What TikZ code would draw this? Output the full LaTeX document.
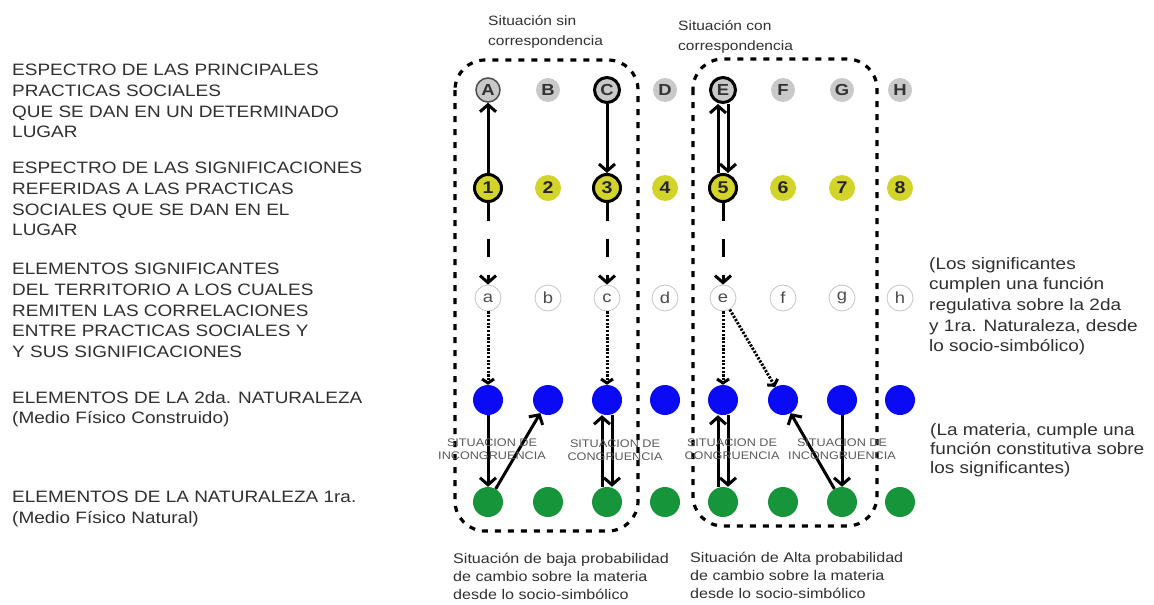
\documentclass[tikz,border=0pt]{standalone}
\usepackage{fontspec}
\setmainfont{Liberation Sans}[FakeStretch=1.15]
\usetikzlibrary{arrows.meta}
\definecolor{txt}{HTML}{303030}
\definecolor{lgray}{HTML}{C9C9C9}
\definecolor{yel}{HTML}{D2D42A}
\definecolor{bluec}{HTML}{0A0AF5}
\definecolor{greenc}{HTML}{16953A}
\definecolor{sitgray}{HTML}{5A5A5A}
\begin{document}
\begin{tikzpicture}[x=1pt,y=-1pt,
  lbl/.style={anchor=north west, inner sep=0pt, align=left, text=txt, font=\fontsize{16.5}{20.7}\selectfont},
  toplbl/.style={anchor=north west, inner sep=0pt, align=left, text=txt, font=\fontsize{13.5}{20}\selectfont},
  botlbl/.style={anchor=north west, inner sep=0pt, align=left, text=txt, font=\fontsize{14}{18}\selectfont},
  sitlbl/.style={inner sep=0pt, align=center, text=sitgray, font=\fontsize{11}{13}\selectfont},
  ltr/.style={circle, inner sep=0pt, minimum size=24pt, fill=lgray, text=black!80, font=\bfseries\fontsize{16}{16}\selectfont},
  ltrA/.style={ltr, draw=gray!60!black, line width=1.5pt},
  ltrK/.style={ltr, minimum size=25pt, draw=black, line width=3pt},
  num/.style={circle, inner sep=0pt, minimum size=26pt, fill=yel, text=black!85, font=\bfseries\fontsize{17}{17}\selectfont},
  numK/.style={num, minimum size=27pt, draw=black, line width=3pt},
  sml/.style={circle, inner sep=0pt, minimum size=26pt, fill=white, draw=gray!45, line width=0.8pt, text=black!70, font=\fontsize{16}{16}\selectfont},
  bl/.style={circle, inner sep=0pt, minimum size=30pt, fill=bluec},
  gr/.style={circle, inner sep=0pt, minimum size=30pt, fill=greenc},
  sarr/.style={line width=3pt, -{Straight Barb[length=7pt,width=16pt]}},
  darr/.style={sarr, dash pattern=on 18pt off 18pt},
  dotarr/.style={line width=3pt, dash pattern=on 2.2pt off 1.5pt, -{Straight Barb[length=4pt,width=12pt]}},
  boxd/.style={line width=3.2pt, dash pattern=on 6pt off 7pt, rounded corners=30pt}
]
\useasboundingbox[fill=white] (0,0) rectangle (1154,605);

% dashed boxes
\draw[boxd] (455,60) rectangle (638,531);
\draw[boxd] (693,59) rectangle (877,526);

% row 1: letters
\node[ltrA] (nA) at (488,90) {A};
\node[ltr]  (nB) at (548,90) {B};
\node[ltrK] (nC) at (607,90) {C};
\node[ltr]  (nD) at (665,90) {D};
\node[ltrK] (nE) at (723,90) {E};
\node[ltr]  (nF) at (783,90) {F};
\node[ltr]  (nG) at (842,90) {G};
\node[ltr]  (nH) at (900,90) {H};

% row 2: numbers
\node[numK] (n1) at (488,188) {1};
\node[num]  (n2) at (548,188) {2};
\node[numK] (n3) at (607,188) {3};
\node[num]  (n4) at (665,188) {4};
\node[numK] (n5) at (723,188) {5};
\node[num]  (n6) at (783,188) {6};
\node[num]  (n7) at (842,188) {7};
\node[num]  (n8) at (900,188) {8};

% row 3: significant elements
\node[sml] (sa) at (488,298) {a};
\node[sml] (sb) at (548,298) {b};
\node[sml] (sc) at (607,298) {c};
\node[sml] (sd) at (665,298) {d};
\node[sml] (se) at (723,298) {e};
\node[sml] (sf) at (783,298) {f};
\node[sml] (sg) at (842,298) {g};
\node[sml] (sh) at (900,298) {h};

% row 4: second nature
\node[bl] (ba) at (488,400) {};
\node[bl] (bb) at (548,400) {};
\node[bl] (bc) at (607,400) {};
\node[bl] (bd) at (665,400) {};
\node[bl] (be) at (723,400) {};
\node[bl] (bf) at (783,400) {};
\node[bl] (bg) at (842,400) {};
\node[bl] (bh) at (900,400) {};

% row 5: first nature
\node[gr] (ga) at (488,502) {};
\node[gr] (gb) at (548,502) {};
\node[gr] (gc) at (607,502) {};
\node[gr] (gd) at (665,502) {};
\node[gr] (ge) at (723,502) {};
\node[gr] (gf) at (783,502) {};
\node[gr] (gg) at (842,502) {};
\node[gr] (gh) at (900,502) {};

% connectors top
\draw[sarr] (n1) -- (nA);
\draw[sarr] (nC) -- (n3);
\draw[sarr] ([xshift=-5pt]n5.north) -- ([xshift=-5pt]nE.south);
\draw[sarr] ([xshift=5pt]nE.south) -- ([xshift=5pt]n5.north);

% dashed
\draw[darr] (n1) -- (sa);
\draw[darr] (n3) -- (sc);
\draw[darr] (n5) -- (se);

% dotted
\draw[dotarr] (sa) -- (ba);
\draw[dotarr] (sc) -- (bc);
\draw[dotarr] (se) -- (be);
\draw[dotarr] (se) -- (bf);

% bottom
\draw[sarr] (ba) -- (ga);
\draw[sarr] (ga) -- (bb);
\draw[sarr] ([xshift=-5pt]gc.north) -- ([xshift=-5pt]bc.south);
\draw[sarr] ([xshift=5pt]bc.south) -- ([xshift=5pt]gc.north);
\draw[sarr] ([xshift=-5pt]ge.north) -- ([xshift=-5pt]be.south);
\draw[sarr] ([xshift=5pt]be.south) -- ([xshift=5pt]ge.north);
\draw[sarr] (bg) -- (gg);
\draw[sarr] (gg) -- (bf);

% situation labels
\node[sitlbl] (s1) at (492,449) {SITUACION DE\\INCONGRUENCIA};
\node[sitlbl] (s2) at (615,450) {SITUACION DE\\CONGRUENCIA};
\node[sitlbl] (s3) at (732,449) {SITUACION DE\\CONGRUENCIA};
\node[sitlbl] (s4) at (842,449) {SITUACION DE\\INCONGRUENCIA};

% left labels
\node[lbl] (L1) at (12,64) {ESPECTRO DE LAS PRINCIPALES\\PRACTICAS SOCIALES\\QUE SE DAN EN UN DETERMINADO\\LUGAR};
\node[lbl] (L2) at (12,162) {ESPECTRO DE LAS SIGNIFICACIONES\\REFERIDAS A LAS PRACTICAS\\SOCIALES QUE SE DAN EN EL\\LUGAR};
\node[lbl] (L3) at (12,263) {ELEMENTOS SIGNIFICANTES\\DEL TERRITORIO A LOS CUALES\\REMITEN LAS CORRELACIONES\\ENTRE PRACTICAS SOCIALES Y\\Y SUS SIGNIFICACIONES};
\node[lbl] (L4) at (12,391) {ELEMENTOS DE LA 2da. NATURALEZA\\(Medio Físico Construido)};
\node[lbl] (L5) at (12,491) {ELEMENTOS DE LA NATURALEZA 1ra.\\(Medio Físico Natural)};

% right labels
\node[lbl] (R1) at (929,257) {(Los significantes\\cumplen una función\\regulativa sobre la 2da\\y 1ra. Naturaleza, desde\\lo socio-simbólico)};
\node[lbl, font=\fontsize{16.5}{19}\selectfont] (R2) at (930,423) {(La materia, cumple una\\función constitutiva sobre\\los significantes)};

% top labels
\node[toplbl] (T1) at (488,15) {Situación sin\\correspondencia};
\node[toplbl] (T2) at (678,20) {Situación con\\correspondencia};

% bottom labels
\node[botlbl] (B1) at (453,553) {Situación de baja probabilidad\\de cambio sobre la materia\\desde lo socio-simbólico};
\node[botlbl] (B2) at (690,552) {Situación de Alta probabilidad\\de cambio sobre la materia\\desde lo socio-simbólico};
\end{tikzpicture}
\end{document}
